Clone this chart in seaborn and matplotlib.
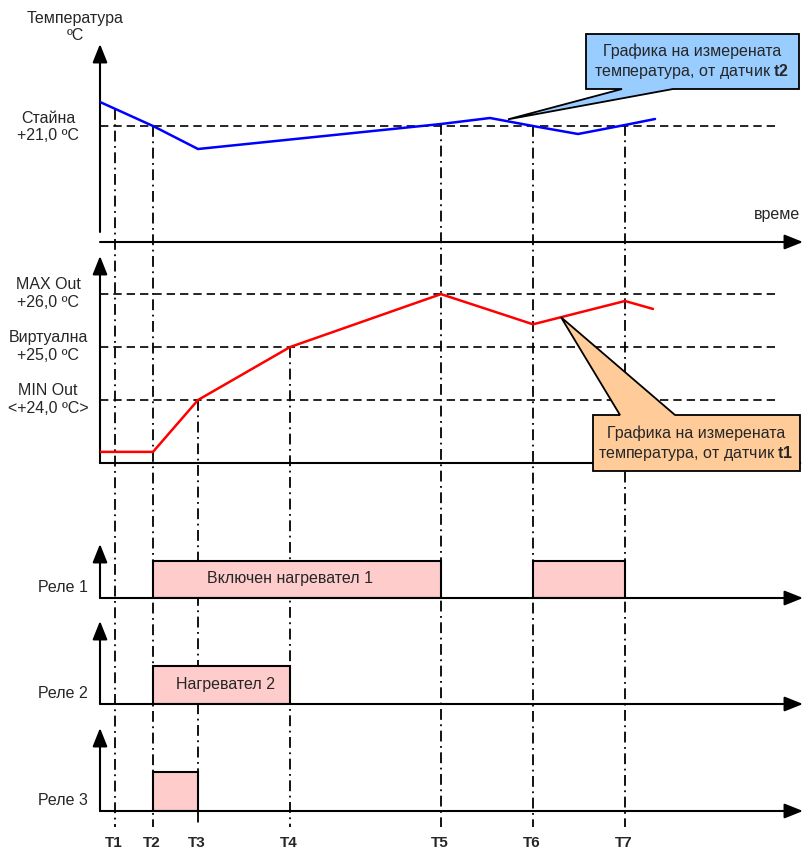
import seaborn as sns
import matplotlib.pyplot as plt
import numpy as np
import pandas as pd
from matplotlib.patches import Polygon

# time marks on the common time axis
t_names = ["T1", "T2", "T3", "T4", "T5", "T6", "T7"]
t_times = [15, 53, 98, 190, 341, 433, 525]
# which curve each marker line starts from
t_start = ["t2", "t2", "t1", "t1", "t2", "t2", "t2"]

# room temperature, sensor t2
t2_time = [0, 53, 98, 341, 390, 433, 478, 525, 555]
t2_temp = [21.48, 21.0, 20.54, 21.04, 21.16, 21.0, 20.84, 21.02, 21.14]

# output temperature, sensor t1
t1_time = [0, 53, 98, 190, 341, 433, 525, 553]
t1_temp = [23.02, 23.02, 24.0, 25.0, 26.0, 25.43, 25.87, 25.72]

room_set = 21.0
room_label = "Стайна\n+21,0 ºC"
out_levels = [26.0, 25.0, 24.0]
out_labels = ["MAX Out\n+26,0 ºC", "Виртуална\n+25,0 ºC", "MIN Out\n<+24,0 ºC>"]

relay_names = ["Реле 1", "Реле 2", "Реле 3"]
relay_on = [[53, 433], [53], [53]]
relay_off = [[341, 525], [190], [98]]
relay_text = ["Включен нагревател 1", "Нагревател 2", ""]

t2_note = "Графика на измерената\nтемпература, от датчик $\\mathbf{t2}$"
t1_note = "Графика на измерената\nтемпература, от датчик $\\mathbf{t1}$"

sns.set_style("white")
plt.rcParams["font.family"] = ["Liberation Sans", "DejaVu Sans"]
plt.rcParams["mathtext.fontset"] = "custom"
plt.rcParams["mathtext.rm"] = "Liberation Sans"
plt.rcParams["mathtext.bf"] = "Liberation Sans:bold"
FS = 11.5

W, H = 803, 854
fig = plt.figure(figsize=(W / 100, H / 100), dpi=100)

# background layer in pixel coords (marker lines go under everything)
bg = fig.add_axes([0, 0, 1, 1])
bg.set_xlim(0, W)
bg.set_ylim(H, 0)
bg.axis("off")


def px_axes(top, bottom):
    a = fig.add_axes([100 / W, 1 - bottom / H, 703 / W, (bottom - top) / H])
    a.set_xlim(0, 703)
    a.axis("off")
    return a


def axis_arrows(a, y0=0.0):
    kw = dict(arrowstyle="-|>,head_length=0.75,head_width=0.3", color="black",
              lw=1.5, mutation_scale=15, shrinkA=0, shrinkB=0)
    a.annotate("", xy=(0, 1), xytext=(0, y0), xycoords="axes fraction",
               arrowprops=kw, annotation_clip=False)
    a.annotate("", xy=(1, 0), xytext=(0, 0), xycoords="axes fraction",
               arrowprops=kw, annotation_clip=False)


ax1 = px_axes(45, 243)
ax1.set_ylim(18.68, 22.64)
ax2 = px_axes(257, 464)
ax2.set_ylim(22.81, 26.72)
relay_axes = [px_axes(545, 599), px_axes(622, 705), px_axes(729, 812)]
relay_axes[0].set_ylim(0, 54 / 37)
relay_axes[1].set_ylim(0, 83 / 38)
relay_axes[2].set_ylim(0, 83 / 39)

# top panel - room temperature
axis_arrows(ax1, y0=10 / 198)
ax1.hlines(room_set, 0, 680, colors="black", lw=1.2, linestyles=(0, (5, 3)))
sns.lineplot(x=t2_time, y=t2_temp, ax=ax1, color="#0000ff", lw=1.8, zorder=3)
ax1.axis("off")

# middle panel - output temperature
axis_arrows(ax2)
ax2.hlines(out_levels, 0, 680, colors="black", lw=1.2, linestyles=(0, (5, 3)))
sns.lineplot(x=t1_time, y=t1_temp, ax=ax2, color="#ff0000", lw=1.8, zorder=3)
ax2.axis("off")

# relay panels
text_shift = [-7, 4, 0]
for a, on, off, txt, dx in zip(relay_axes, relay_on, relay_off, relay_text, text_shift):
    on = np.array(on)
    off = np.array(off)
    a.bar(on, 1, width=off - on, bottom=0, align="edge", color="#ffcccc",
          edgecolor="black", lw=1.5, zorder=2)
    if txt:
        a.text((on[0] + off[0]) / 2 + dx, 0.55, txt, ha="center", va="center", fontsize=FS, zorder=4)
    axis_arrows(a)


def to_px(a, x, y):
    d = a.transData.transform((x, y))
    return bg.transData.inverted().transform(d)


# dash-dot marker lines for T1..T7
for name, t, src in zip(t_names, t_times, t_start):
    if src == "t2":
        top = to_px(ax1, t, np.interp(t, t2_time, t2_temp))
    else:
        top = to_px(ax2, t, np.interp(t, t1_time, t1_temp))
    bg.plot([top[0], top[0]], [top[1], 828], color="black", lw=1.3,
            linestyle=(0, (6, 2.5, 1, 2.5)))
    bg.text(top[0] - 1, 843, name, ha="center", va="center", fontsize=11, fontweight="bold")

# overlay layer for labels and callouts
over = fig.add_axes([0, 0, 1, 1])
over.set_xlim(0, W)
over.set_ylim(H, 0)
over.axis("off")

over.text(75, 27, "Температура\nºC", ha="center", va="center", multialignment="center", fontsize=FS)
over.text(800, 215, "време", ha="right", va="center", fontsize=FS)
p = to_px(ax1, 0, room_set)
over.text(48, p[1], room_label, ha="center", va="center", multialignment="center", fontsize=FS)
for lev, lab in zip(out_levels, out_labels):
    p = to_px(ax2, 0, lev)
    over.text(48, p[1] - 1.5, lab, ha="center", va="center", multialignment="center", fontsize=FS)
for a, name in zip(relay_axes, relay_names):
    p = to_px(a, 0, 0.3)
    over.text(63, p[1], name, ha="center", va="center", fontsize=FS)

# callout for t2
tip = to_px(ax1, 408, np.interp(408, t2_time, t2_temp))
tip[1] -= 2
over.add_patch(Polygon([(586, 35), (799, 35), (799, 90), (673, 90), tuple(tip),
                        (622, 90), (586, 90)], closed=True, facecolor="#99ccff",
                       edgecolor="black", lw=1.3))
over.text(692, 62, t2_note, ha="center", va="center", multialignment="center",
          fontsize=FS, linespacing=1.2)

# callout for t1
tip = to_px(ax2, 461, np.interp(461, t1_time, t1_temp))
over.add_patch(Polygon([(593, 416), (620, 416), tuple(tip), (675, 416), (800, 416),
                        (800, 472), (593, 472)], closed=True, facecolor="#ffcc99",
                       edgecolor="black", lw=1.3))
over.text(696, 444, t1_note, ha="center", va="center", multialignment="center",
          fontsize=FS, linespacing=1.2)

fig.savefig("out.png", dpi=100)
